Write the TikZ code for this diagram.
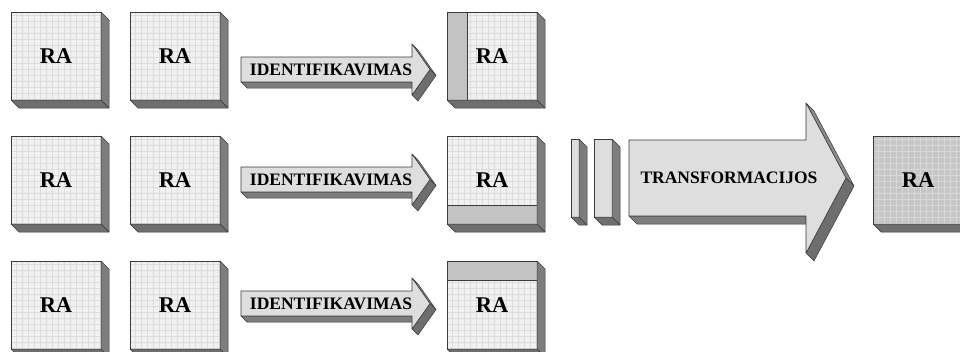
\documentclass[tikz,border=0pt]{standalone}
\usepackage{fontspec}
\setmainfont{Liberation Serif}
\newcommand\rafont{\fontsize{22.5}{24}\selectfont\bfseries}
\newcommand\lblfont{\fontsize{17.5}{19}\selectfont\bfseries}
\definecolor{edgecol}{HTML}{3A3A3A}
\definecolor{facecol}{HTML}{F1F1F1}
\definecolor{gridcol}{HTML}{DCDCDC}
\definecolor{darkface}{HTML}{C6C6C6}
\definecolor{darkgrid}{HTML}{D8D8D8}
\definecolor{stripcol}{HTML}{C3C3C3}
\definecolor{arrowcol}{HTML}{DEDEDE}
\definecolor{sidecol}{HTML}{7D7D7D}
\definecolor{basecol}{HTML}{6E6E6E}
\definecolor{slopecol}{HTML}{8A8A8A}

% right and bottom faces of an extruded rectangle node
\newcommand\raextrude[2]{%
  \filldraw[sideface] (#1.north east) -- ++(#2,#2) -- ([shift={(#2,#2)}]#1.south east) -- (#1.south east) -- cycle;
  \filldraw[baseface] (#1.south west) -- (#1.south east) -- ([shift={(#2,#2)}]#1.south east) -- ([shift={(#2,#2)}]#1.south west) -- cycle;}

% extruded block arrow: tail x, head x, tip x, centre y, half shaft, half head, depth
\newcommand\solidarrow[7]{%
  \filldraw[slopeface] (#2,#4-#6) -- (#3,#4) -- (#3+#7,#4+#7) -- (#2+#7,#4-#6+#7) -- cycle;
  \filldraw[baseface] (#3,#4) -- (#2,#4+#6) -- (#2+#7,#4+#6+#7) -- (#3+#7,#4+#7) -- cycle;
  \filldraw[sideface] (#1,#4+#5) -- (#2,#4+#5) -- (#2+#7,#4+#5+#7) -- (#1+#7,#4+#5+#7) -- cycle;
  \filldraw[arrowface] (#1,#4-#5) -- (#2,#4-#5) -- (#2,#4-#6) -- (#3,#4) -- (#2,#4+#6) -- (#2,#4+#5) -- (#1,#4+#5) -- cycle;}

\tikzset{
  sideface/.style={fill=sidecol, draw=edgecol, line width=0.5pt, line join=round},
  baseface/.style={fill=basecol, draw=edgecol, line width=0.5pt, line join=round},
  slopeface/.style={fill=slopecol, draw=edgecol, line width=0.5pt, line join=round},
  arrowface/.style={fill=arrowcol, draw=edgecol, line width=0.6pt, line join=round},
  rabox/.style={draw=edgecol, line width=0.6pt, fill=facecol,
    minimum width=90pt, minimum height=88pt, inner sep=0pt, outer sep=0pt,
    font=\rafont,
    path picture={\draw[gridcol, line width=0.35pt, step=6pt]
      (path picture bounding box.south west) grid (path picture bounding box.north east); #1}},
  rabox/.default={},
  finalbox/.style={draw=edgecol, line width=0.6pt, fill=darkface,
    minimum width=90pt, minimum height=88pt, inner sep=0pt, outer sep=0pt,
    font=\rafont,
    path picture={\draw[darkgrid, line width=0.35pt, step=6pt]
      (path picture bounding box.south west) grid (path picture bounding box.north east);}},
  slab/.style={draw=edgecol, line width=0.6pt, fill=arrowcol,
    minimum height=78pt, inner sep=0pt, outer sep=0pt},
  lbl/.style={font=\lblfont, inner sep=0pt}
}

\begin{document}
\begin{tikzpicture}[x=1pt, y=-1pt]
  \fill[white] (0,0) rectangle (960,351);
  \clip (0,0) rectangle (960,351);

  % source blocks
  \foreach \r/\cy in {1/56, 2/180, 3/305} {
    \node[rabox] (b\r a) at (56,\cy) {RA};
    \node[rabox] (b\r b) at (175,\cy) {RA};
    \raextrude{b\r a}{8}
    \raextrude{b\r b}{8}
  }

  % identified blocks
  \node[rabox={\fill[stripcol] (path picture bounding box.north west) rectangle ([xshift=20pt]path picture bounding box.south west);
      \draw[edgecol, line width=0.6pt] ([xshift=20pt]path picture bounding box.north west) -- ([xshift=20pt]path picture bounding box.south west);}]
    (c1) at (492,56) {RA};
  \node[rabox={\fill[stripcol] (path picture bounding box.south west) rectangle ([yshift=19pt]path picture bounding box.south east);
      \draw[edgecol, line width=0.6pt] ([yshift=19pt]path picture bounding box.south west) -- ([yshift=19pt]path picture bounding box.south east);}]
    (c2) at (492,180) {RA};
  \node[rabox={\fill[stripcol] (path picture bounding box.north west) rectangle ([yshift=-19pt]path picture bounding box.north east);
      \draw[edgecol, line width=0.6pt] ([yshift=-19pt]path picture bounding box.north west) -- ([yshift=-19pt]path picture bounding box.north east);}]
    (c3) at (492,305) {RA};
  \raextrude{c1}{8}
  \raextrude{c2}{8}
  \raextrude{c3}{8}

  % identification arrows
  \solidarrow{241}{412}{430}{69.5}{12.5}{25.5}{6}
  \node[lbl] (id1) at (331,69.5) {IDENTIFIKAVIMAS};
  \solidarrow{241}{412}{430}{179.5}{12.5}{25.5}{6}
  \node[lbl] (id2) at (331,179.5) {IDENTIFIKAVIMAS};
  \solidarrow{241}{412}{430}{303.5}{12.5}{25.5}{6}
  \node[lbl] (id3) at (331,303.5) {IDENTIFIKAVIMAS};

  % slices entering the transformation
  \node[slab, minimum width=8pt] (s1) at (575,178) {};
  \node[slab, minimum width=18pt] (s2) at (603,178) {};
  \raextrude{s1}{8}
  \raextrude{s2}{8}

  % transformation arrow
  \solidarrow{629}{806}{846}{178}{38}{75}{8}
  \node[lbl] (tr) at (729,178) {TRANSFORMACIJOS};

  % resulting block
  \node[finalbox] (res) at (918,180) {RA};
  \raextrude{res}{8}
\end{tikzpicture}
\end{document}
